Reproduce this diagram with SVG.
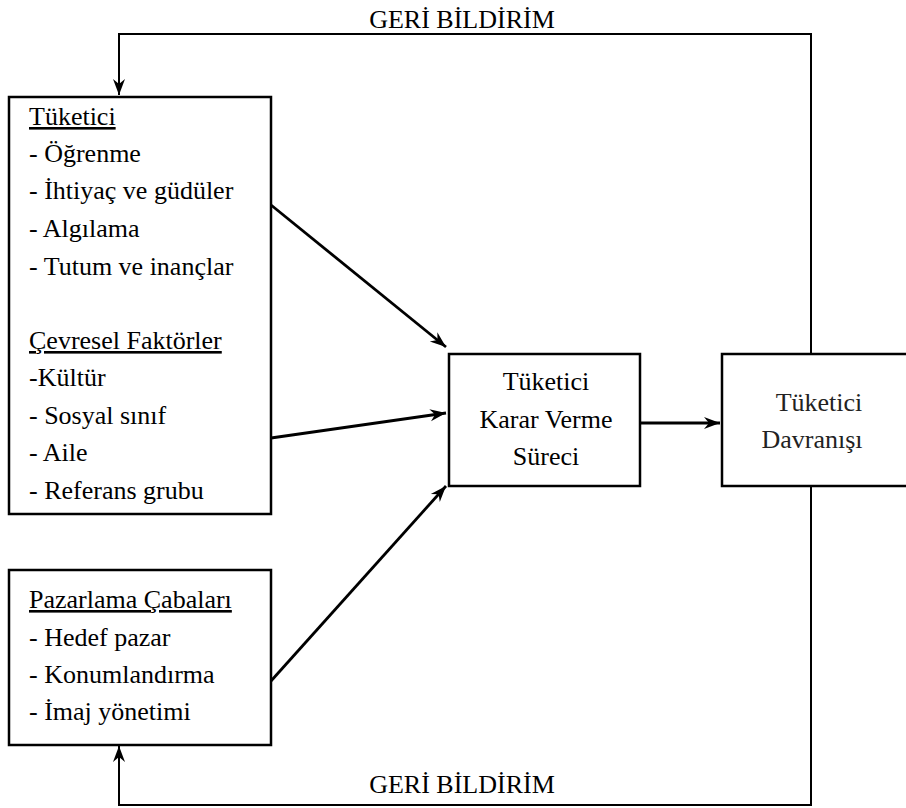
<svg xmlns="http://www.w3.org/2000/svg" width="906" height="808" viewBox="0 0 906 808">
<defs>
<style>
text{font-family:"Liberation Serif","Times New Roman",serif;font-size:26px;fill:#000}
.u{text-decoration:underline}
.c{text-anchor:middle}
.lt{fill:#222}
.box{fill:#fff;stroke:#000;stroke-width:2.5}
.ar{fill:none;stroke:#000;stroke-width:2.8;marker-end:url(#ah)}
.fb{fill:none;stroke:#000;stroke-width:2;marker-end:url(#ah)}
</style>
<marker id="ah" markerUnits="userSpaceOnUse" markerWidth="20" markerHeight="14" viewBox="-17 -7 18 14" refX="0" refY="0" orient="auto">
<path d="M0,0 L-16,-6 L-11,0 L-16,6 Z" fill="#000"/>
</marker>
</defs>
<rect width="906" height="808" fill="#fff"/>
<g id="connectors">
<path class="ar" d="M271,205 L446,347"/>
<path class="ar" d="M271,438 L446,413"/>
<path class="ar" d="M271,681 L446,486"/>
<path class="ar" d="M640,423 L720,423"/>
<path class="fb" d="M811,354 V34 H119 V95"/>
<path class="fb" d="M811,486 V805 H119 V746"/>
</g>
<g id="label-top"><text class="c" x="462" y="28">GERİ BİLDİRİM</text></g>
<g id="label-bottom"><text class="c" x="462" y="793">GERİ BİLDİRİM</text></g>
<g id="node-factors">
<rect class="box" x="9" y="97" width="262" height="417"/>
<text class="u" x="29" y="125">Tüketici</text>
<text x="29" y="162">- Öğrenme</text>
<text x="29" y="199">- İhtiyaç ve güdüler</text>
<text x="29" y="237">- Algılama</text>
<text x="29" y="275">- Tutum ve inançlar</text>
<text class="u" x="29" y="349">Çevresel Faktörler</text>
<text x="29" y="386">-Kültür</text>
<text x="29" y="424">- Sosyal sınıf</text>
<text x="29" y="461">- Aile</text>
<text x="29" y="499">- Referans grubu</text>
</g>
<g id="node-marketing">
<rect class="box" x="9" y="570" width="262" height="175"/>
<text class="u" x="29" y="608">Pazarlama Çabaları</text>
<text x="29" y="646">- Hedef pazar</text>
<text x="29" y="683">- Konumlandırma</text>
<text x="29" y="720">- İmaj yönetimi</text>
</g>
<g id="node-decision">
<rect class="box" x="449" y="354" width="191" height="132"/>
<text class="c" x="546" y="390">Tüketici</text>
<text class="c" x="546" y="428">Karar Verme</text>
<text class="c" x="546" y="465">Süreci</text>
</g>
<g id="node-behavior">
<rect class="box" x="722" y="354" width="200" height="132"/>
<text class="c lt" x="819" y="411">Tüketici</text>
<text class="c lt" x="812" y="448">Davranışı</text>
</g>
</svg>
